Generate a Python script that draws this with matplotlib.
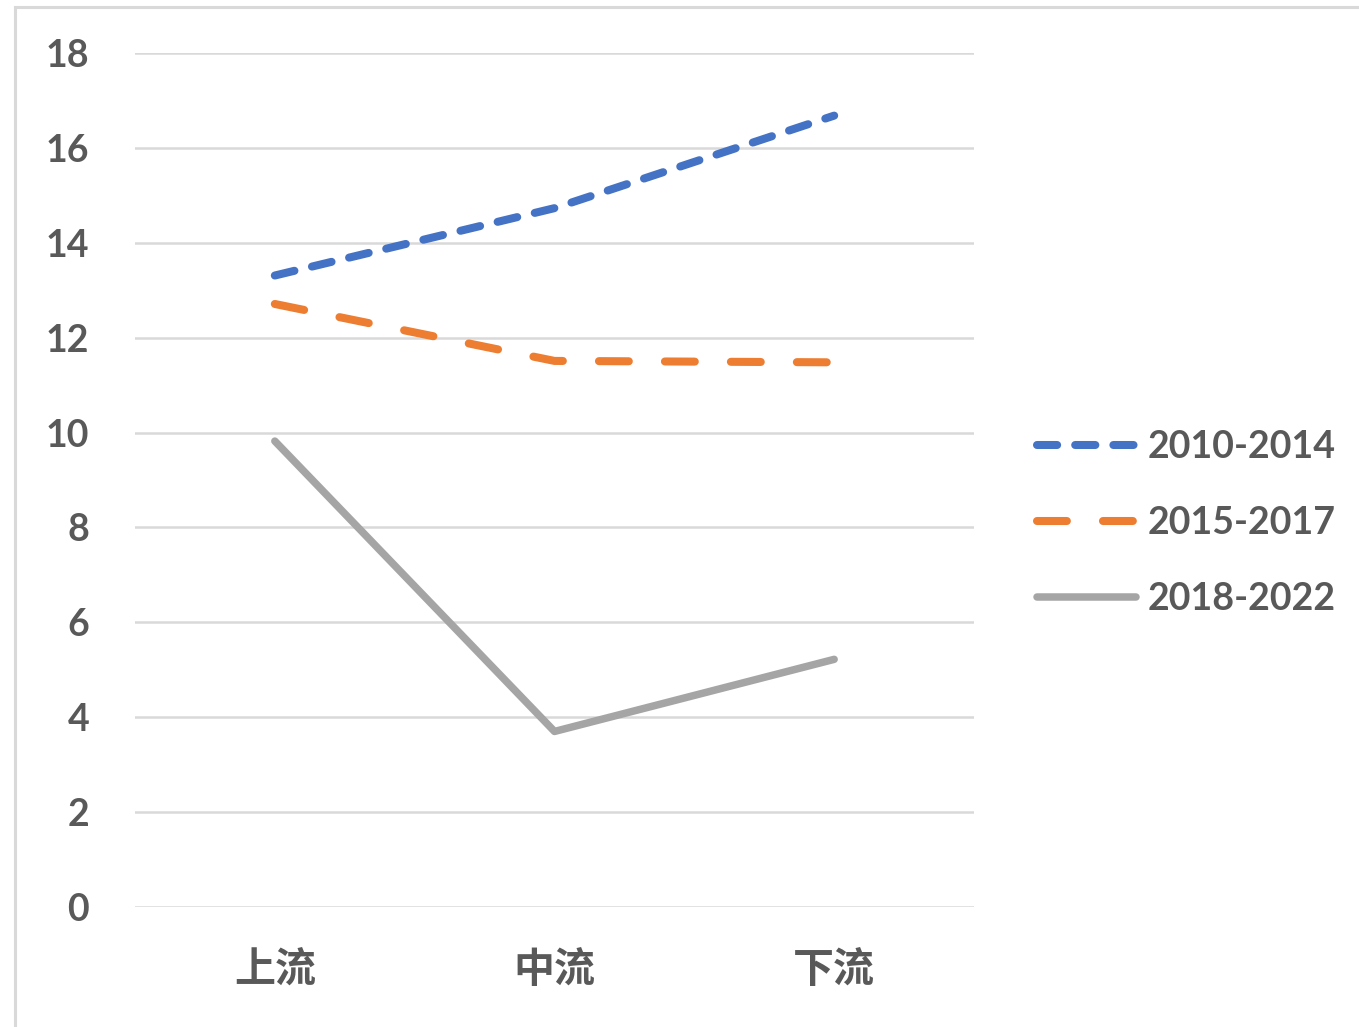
import matplotlib
matplotlib.use("Agg")
import matplotlib.pyplot as plt
from matplotlib.patches import Rectangle

plt.rcParams['font.family'] = ['Lato', 'Noto Sans CJK SC', 'DejaVu Sans']
plt.rcParams['font.weight'] = 'bold'
plt.rcParams['lines.scale_dashes'] = False

categories = ['上流', '中流', '下流']
series_names = ['2010-2014', '2015-2017', '2018-2022']
values_2010_2014 = [13.31, 14.73, 16.68]
values_2015_2017 = [12.71, 11.51, 11.48]
values_2018_2022 = [9.82, 3.70, 5.22]
yticks = [0, 2, 4, 6, 8, 10, 12, 14, 16, 18]

text_color = '#595959'
grid_color = '#d9d9d9'

fig = plt.figure(figsize=(13.59, 10.27), dpi=100)
fig.patch.set_facecolor('white')

# chart-area border
fig.patches.append(Rectangle((15 / 1359, -0.05), 1.2, 1.05 - 7 / 1027,
                             transform=fig.transFigure, fill=False,
                             edgecolor=grid_color, linewidth=2.2, zorder=0))

ax = fig.add_axes([135 / 1359, 1 - 907 / 1027, (974 - 135) / 1359, (907 - 53) / 1027])
ax.set_xlim(-0.5, 2.5)
ax.set_ylim(0, 18)
ax.set_yticks(yticks)
ax.set_yticklabels([str(v) for v in yticks])
ax.set_xticks(range(len(categories)))
ax.set_xticklabels(categories)

for s in ax.spines.values():
    s.set_visible(False)
ax.tick_params(axis='both', length=0, colors=text_color, labelsize=27)
ax.tick_params(axis='y', pad=33)
ax.tick_params(axis='x', pad=31, labelsize=29.5)
for v in yticks:
    ax.axhline(v, color=grid_color, linewidth=1.8, zorder=1)

x = list(range(len(categories)))
ax.plot(x, values_2010_2014, color='#4472c4', linewidth=5.8,
        linestyle=(0, (14.5, 13.0)), dash_capstyle='round',
        solid_capstyle='round', label=series_names[0], zorder=3)
ax.plot(x, values_2015_2017, color='#ed7d31', linewidth=5.8,
        linestyle=(0, (21.5, 26.0)), dash_capstyle='round',
        solid_capstyle='round', label=series_names[1], zorder=3)
ax.plot(x, values_2018_2022, color='#a5a5a5', linewidth=5.4,
        linestyle='-', solid_capstyle='round', solid_joinstyle='round',
        label=series_names[2], zorder=3)

leg = ax.legend(loc='center left', bbox_to_anchor=(1.075, 0.450),
                frameon=False, fontsize=27, handlelength=2.65,
                handletextpad=0.3, labelspacing=1.12, borderpad=0,
                borderaxespad=0)
for t in leg.get_texts():
    t.set_color(text_color)

fig.savefig('out.png', dpi=100, facecolor='white')
